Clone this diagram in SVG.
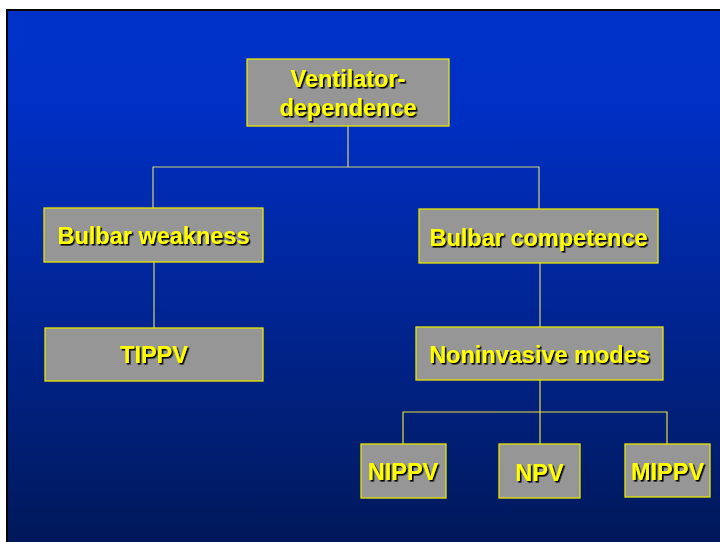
<svg xmlns="http://www.w3.org/2000/svg" width="720" height="542" viewBox="0 0 720 542">
<defs>
<linearGradient id="bg" x1="0" y1="0" x2="0" y2="1">
<stop offset="0" stop-color="#0032CA"/>
<stop offset="0.2" stop-color="#002FC2"/>
<stop offset="1" stop-color="#001858"/>
</linearGradient>
<filter id="sh" x="-10%" y="-20%" width="120%" height="140%">
<feDropShadow dx="1.6" dy="1.6" stdDeviation="0" flood-color="#000" flood-opacity="1"/>
</filter>
</defs>
<style>
.box{fill:#969696;stroke:#E6E600;stroke-width:1.3}
.t{font-family:"Liberation Sans",Arial,sans-serif;font-weight:bold;font-size:23.5px;fill:#FFFF00;text-anchor:middle;filter:url(#sh)}
.c{fill:none;stroke:#D2D27A;stroke-width:1.2}
</style>
<rect x="7" y="10" width="720" height="540" fill="url(#bg)" stroke="#000" stroke-width="2"/>
<g id="connectors">
<path class="c" d="M348,126 V167 M153,208 V167 H539 V209"/>
<path class="c" d="M154,262 V328"/>
<path class="c" d="M540,263 V327"/>
<path class="c" d="M540,380 V444 M403,444 V412 H667 V444" style="stroke:#E0E040"/>
</g>
<g id="ventilator">
<rect class="box" x="247" y="59" width="202" height="67"/>
<text class="t" x="348" y="87">Ventilator-</text>
<text class="t" x="348" y="116">dependence</text>
</g>
<g id="bulbar-weakness">
<rect class="box" x="44" y="208" width="219" height="54"/>
<text class="t" x="153.5" y="244">Bulbar weakness</text>
</g>
<g id="tippv">
<rect class="box" x="45" y="328" width="218" height="53"/>
<text class="t" x="154" y="363">TIPPV</text>
</g>
<g id="bulbar-competence">
<rect class="box" x="419" y="209" width="239" height="54"/>
<text class="t" x="538.5" y="246">Bulbar competence</text>
</g>
<g id="noninvasive">
<rect class="box" x="416" y="327" width="247" height="53"/>
<text class="t" x="539.5" y="363">Noninvasive modes</text>
</g>
<g id="nippv">
<rect class="box" x="361" y="444" width="85" height="54"/>
<text class="t" x="403" y="480">NIPPV</text>
</g>
<g id="npv">
<rect class="box" x="499" y="444" width="81" height="54"/>
<text class="t" x="539.5" y="481">NPV</text>
</g>
<g id="mippv">
<rect class="box" x="625" y="444" width="85" height="53"/>
<text class="t" x="667.5" y="480">MIPPV</text>
</g>
</svg>
